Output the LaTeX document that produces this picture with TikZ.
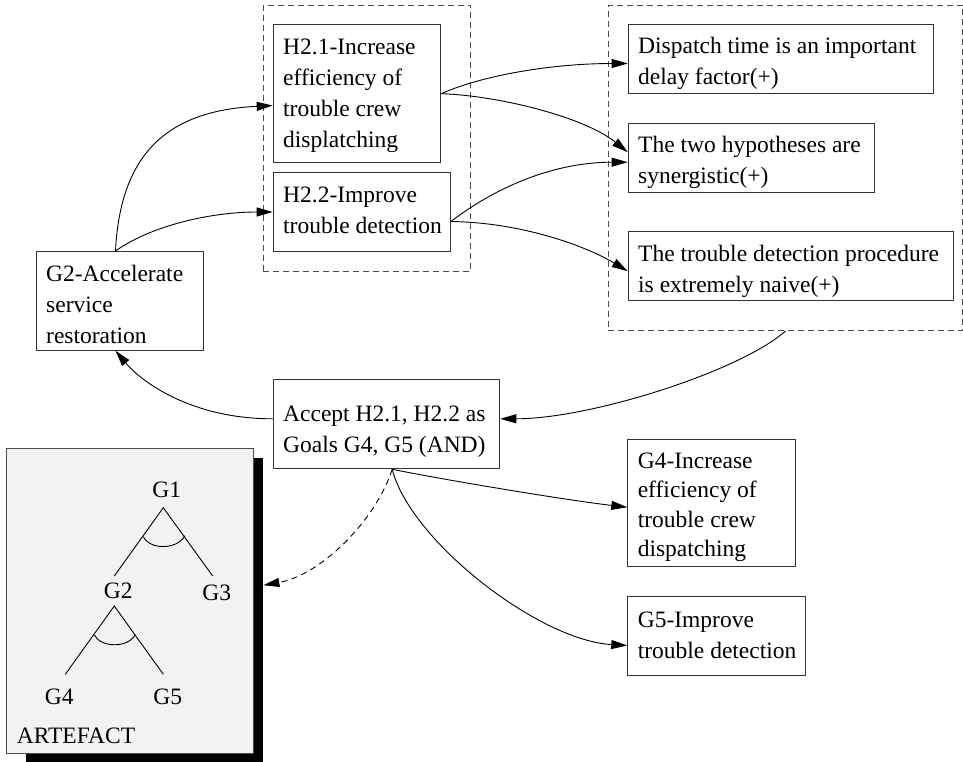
\documentclass[tikz,border=0pt]{standalone}
\usepackage{fontspec}
\setmainfont{Liberation Serif}
\usetikzlibrary{arrows.meta}
% left-aligned block of lines, W wide, baseline on the last line
\newcommand\boxlines[2]{\makebox[#1][l]{\begin{tabular}[b]{@{}l@{}}#2\end{tabular}}}
\definecolor{artfill}{HTML}{F2F2F2}
\begin{document}
\begin{tikzpicture}[x=1pt,y=-1pt,
  every node/.style={font=\fontsize{23.5}{31}\selectfont},
  goalbox/.style={draw=black!80, line width=1pt, anchor=north west,
    inner xsep=10pt, inner ysep=0pt},
  group/.style={draw=black!70, line width=1pt, dash pattern=on 6pt off 4pt,
    anchor=north west, inner sep=0pt},
  link/.style={line width=0.9pt, -{Triangle[length=16pt,width=9pt]}},
  dlink/.style={link, dash pattern=on 6pt off 4.5pt},
  treelabel/.style={anchor=base, inner sep=0pt},
  treeline/.style={line width=0.9pt}
]
\useasboundingbox (0,0) rectangle (963,762);

% dashed groups
\node[group, minimum width=207.3pt, minimum height=266pt] (hyps) at (262.7,4.7) {};
\node[group, minimum width=354.6pt, minimum height=325.3pt] (ev) at (607.7,4.7) {};

% goal and hypothesis boxes
\node[goalbox, text height=92pt, text depth=6.7pt] (g2) at (35.7,251)
  {\boxlines{147.6pt}{G2-Accelerate\\service\\restoration}};
\node[goalbox, text height=123pt, text depth=15.3pt] (h21) at (272.7,24)
  {\boxlines{147.6pt}{H2.1-Increase\\efficiency of\\trouble crew\\displatching}};
\node[goalbox, text height=60.4pt, text depth=18pt] (h22) at (272.7,172.3)
  {\boxlines{157.3pt}{H2.2-Improve\\trouble detection}};

% evidence boxes
\node[goalbox, text height=60.3pt, text depth=8.7pt] (disp) at (627.7,24)
  {\boxlines{285.6pt}{Dispatch time is an important\\delay factor(+)}};
\node[goalbox, text height=60.6pt, text depth=8.4pt] (two) at (627.7,122.7)
  {\boxlines{226.6pt}{The two hypotheses are\\synergistic(+)}};
\node[goalbox, text height=60.7pt, text depth=8.3pt] (naive) at (627.7,231)
  {\boxlines{305.6pt}{The trouble detection procedure\\is extremely naive(+)}};

% decision and new goals
\node[goalbox, text height=72.7pt, text depth=16.3pt] (acc) at (272.7,379.3)
  {\boxlines{206.6pt}{Accept H2.1, H2.2 as\\Goals G4, G5 (AND)}};
\node[goalbox, text height=117.5pt, text depth=10.1pt] (g4) at (627.3,438.7)
  {\renewcommand\arraystretch{0.952}\boxlines{148pt}{G4-Increase\\efficiency of\\trouble crew\\dispatching}};
\node[goalbox, text height=61.4pt, text depth=17.3pt] (g5) at (627.3,596.3)
  {\boxlines{158pt}{G5-Improve\\trouble detection}};

% artefact panel with its shadow
\node[fill=black, anchor=north west, inner sep=0pt,
  minimum width=237.5pt, minimum height=305pt] (artshadow) at (25.5,457.5) {};
\node[fill=artfill, draw=black!70, line width=1pt, anchor=north west, inner sep=0pt,
  minimum width=246.7pt, minimum height=305pt] (art) at (6,448.3) {};

% goal tree inside the artefact
\node[treelabel] (t1) at (166.7,497.7) {G1};
\node[treelabel] (t2) at (118.3,598.3) {G2};
\node[treelabel] (t3) at (216.7,600) {G3};
\node[treelabel] (t4) at (59.3,704.3) {G4};
\node[treelabel] (t5) at (167.7,704.3) {G5};
\node[anchor=base west, inner sep=0pt] (artlabel) at (16.7,743.3) {ARTEFACT};
\draw[treeline] (114.3,576) -- (163.3,507.7) -- (212.7,576);
\draw[treeline] (143.3,536.7) .. controls (150,550) and (177,550) .. (185,535.7);
\draw[treeline] (65.3,674.3) -- (114.3,606) -- (163.3,674.3);
\draw[treeline] (94.3,635) .. controls (101,648) and (128,648) .. (135,635);

% G2 refined into hypotheses
\draw[link] ([xshift=-4.5pt]g2.north) .. controls +(5,-100) and +(-102.7,5) .. ([yshift=-11.9pt]h21.west);
\draw[link] ([xshift=-4.5pt]g2.north) .. controls +(35,-25) and +(-62.7,0) .. (h22.west);

% hypotheses supported by evidence
\draw[link] (h21.east) .. controls +(39.7,-17.7) and +(-77.7,0) .. ([yshift=-4.5pt]disp.west);
\draw[link] (h21.east) .. controls +(59.7,2.3) and +(-42.7,-34.7) .. ([yshift=5.5pt]two.west);
\draw[link] ([yshift=-9.5pt]h22.east) .. controls +(40,-31) and +(-77.7,0) .. ([yshift=-4.5pt]two.west);
\draw[link] ([yshift=-9.5pt]h22.east) .. controls +(70,1) and +(-42.7,-25.7) .. ([yshift=-5.2pt]naive.west);

% evidence leads to the decision
\draw[link] (ev.south) .. controls +(-45,40) and +(90.7,0) .. ([yshift=5.5pt]acc.east);
\draw[link] ([yshift=5.5pt]acc.west) .. controls +(-82.7,0) and +(25,30) .. ([xshift=-4.5pt]g2.south);

% decision produces new goals and updates the artefact
\draw[link] ([xshift=5.7pt]acc.south) .. controls +(58.3,11.7) and +(-58.3,-6.7) .. ([yshift=-4.2pt]g4.west);
\draw[link] ([xshift=5.7pt]acc.south) .. controls +(18.3,71.7) and +(-88.3,-5) .. ([yshift=-9.3pt]g5.west);
\draw[dlink] ([xshift=5.7pt]acc.south) .. controls +(-16.7,51.7) and +(57,-10) .. ([yshift=25pt]artshadow.east);
\end{tikzpicture}
\end{document}
